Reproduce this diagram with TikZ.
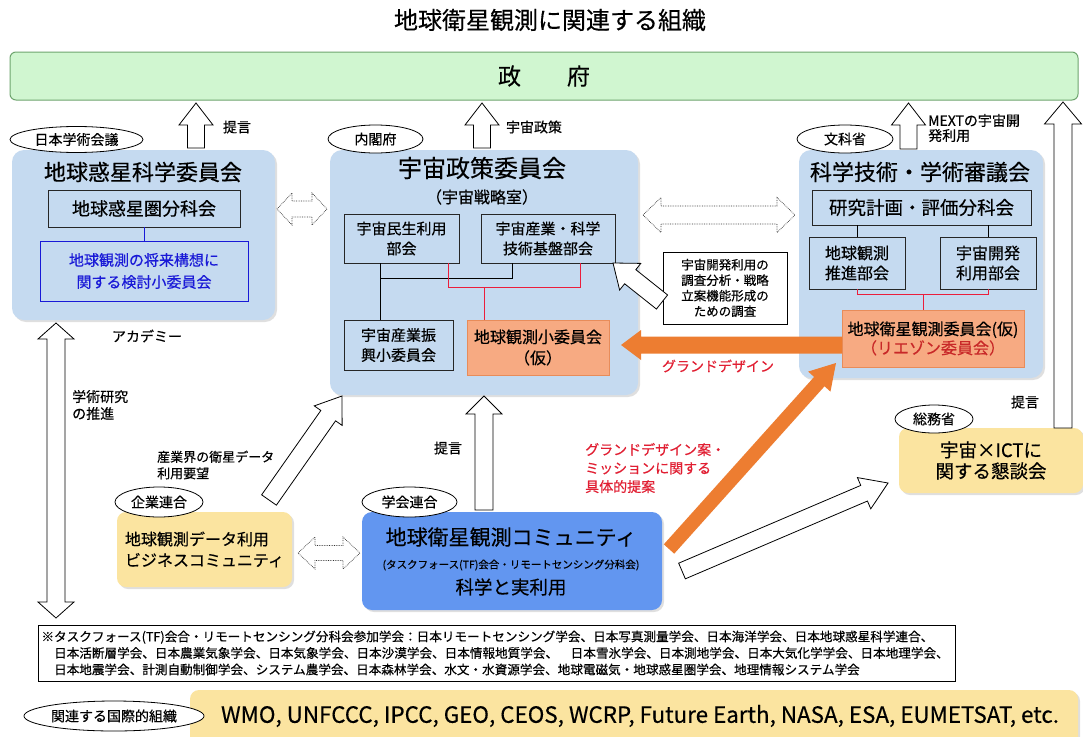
\documentclass[tikz,border=0pt]{standalone}
\usepackage{fontspec}
\setmainfont{Noto Sans CJK JP}[FakeBold=0.4]
\usetikzlibrary{calc,shapes.geometric,shadows}
\definecolor{lblue}{RGB}{197,218,240}
\definecolor{gfill}{RGB}{208,246,208}
\definecolor{gline}{RGB}{110,165,110}
\definecolor{ofill}{RGB}{247,170,130}
\definecolor{oline}{RGB}{232,140,90}
\definecolor{yfill}{RGB}{251,228,160}
\definecolor{cblue}{RGB}{98,150,240}
\definecolor{redl}{RGB}{235,30,60}
\definecolor{redt}{RGB}{225,30,50}
\definecolor{redt2}{RGB}{200,40,40}
\definecolor{oarrow}{RGB}{237,125,49}
\definecolor{bluet}{RGB}{25,25,215}
\newcommand{\fs}[2]{\fontsize{#1}{#2}\selectfont}
% block arrow: [style]{tail}{tip}{shaft half width}{head half width}{head length}
\newcommand{\barrow}[6][]{%
  \path ($(#3)!#6!(#2)$) coordinate (bah);
  \draw[#1] ($(#2)!#4!90:(#3)$) -- ($(bah)!#4!90:(#3)$) -- ($(bah)!#5!90:(#3)$) -- (#3)
    -- ($(bah)!#5!-90:(#3)$) -- ($(bah)!#4!-90:(#3)$) -- ($(#2)!#4!-90:(#3)$) -- cycle;}
% double headed block arrow
\newcommand{\darrow}[6][]{%
  \path ($(#2)!#6!(#3)$) coordinate (dah1) ($(#3)!#6!(#2)$) coordinate (dah2);
  \draw[#1] (#2) -- ($(dah1)!#5!90:(#3)$) -- ($(dah1)!#4!90:(#3)$) -- ($(dah2)!#4!90:(#3)$)
    -- ($(dah2)!#5!90:(#3)$) -- (#3) -- ($(dah2)!#5!-90:(#3)$) -- ($(dah2)!#4!-90:(#3)$)
    -- ($(dah1)!#4!-90:(#3)$) -- ($(dah1)!#5!-90:(#3)$) -- cycle;}
\begin{document}
\begin{tikzpicture}[x=1pt,y=-1pt,
  panel/.style={fill=lblue, rounded corners=12pt, inner sep=0pt,
    drop shadow={shadow xshift=2pt,shadow yshift=-2pt,opacity=0.25}},
  ibox/.style={draw=black!85, line width=0.9pt, fill=lblue, inner sep=0pt, align=center},
  obox/.style={draw=oline, line width=0.9pt, fill=ofill, inner sep=0pt, align=center},
  ybox/.style={fill=yfill, rounded corners=9pt, inner sep=0pt, align=center,
    drop shadow={shadow xshift=2pt,shadow yshift=-2pt,opacity=0.25}},
  ell/.style={ellipse, draw, line width=0.8pt, fill=white, inner sep=0pt, font=\fs{14}{16}},
  lab/.style={inner sep=0pt, font=\fs{14}{16}},
  blk/.style={draw=black, line width=1pt},
  redline/.style={draw=redl, line width=1pt},
  wa/.style={draw=black, line width=0.8pt, fill=white, line join=miter},
  dda/.style={draw=black!80, line width=0.7pt, densely dotted, fill=white},
  oa/.style={fill=oarrow, draw=none}]
\useasboundingbox (0,0) rectangle (1083,736);
\fill[white] (0,0) rectangle (1083,736);

% title and government
\node[lab, font=\fs{24}{28}] (title) at (550,20) {地球衛星観測に関連する組織};
\node[draw=gline, line width=1pt, fill=gfill, rounded corners=6pt, minimum width=1068pt, minimum height=48pt, font=\fs{23}{26}] (gov) at (544,76) {政　　府};

% left panel
\node[panel, minimum width=263pt, minimum height=170pt] (lbox) at (143.5,235) {};
\node[lab, font=\fs{22}{26}] (ltitle) at (143,172) {地球惑星科学委員会};
\node[ibox, minimum width=192pt, minimum height=37pt, font=\fs{18}{22}] (lsub) at (144,208.5) {地球惑星圏分科会};
\node[ibox, draw=bluet, text=bluet, minimum width=208pt, minimum height=60pt, font=\fs{15}{22}] (lblue) at (144,271) {地球観測の将来構想に\\関する検討小委員会};
\draw[bluet, line width=1pt] (lsub) -- (lblue);

% middle panel
\node[panel, minimum width=308pt, minimum height=245pt] (mbox) at (484,272.5) {};
\node[lab, font=\fs{24}{28}] (mtitle) at (482,168) {宇宙政策委員会};
\node[lab, font=\fs{16}{20}] (msub) at (482,197) {（宇宙戦略室）};
\node[ibox, minimum width=115pt, minimum height=49pt, font=\fs{15}{20}] (m1) at (401.5,238.5) {宇宙民生利用\\部会};
\node[ibox, minimum width=134pt, minimum height=49pt, font=\fs{15}{20}] (m2) at (548,238.5) {宇宙産業・科学\\技術基盤部会};
\node[ibox, minimum width=109pt, minimum height=50pt, font=\fs{15}{20}] (m3) at (398.5,345) {宇宙産業振\\興小委員会};
\node[obox, minimum width=142pt, minimum height=55pt, font=\fs{16}{21}] (m4) at (538,347.5) {地球観測小委員会\\（仮）};
\coordinate (mj1) at (380,278);
\coordinate (mj2) at (512,278);
\draw[blk] (m1.south -| mj1) -- (m3.north -| mj1);
\draw[blk] (mj1) -- (mj2) -- (m2.south -| mj2);
\coordinate (mr1) at (448,287);
\coordinate (mr2) at (580,287);
\coordinate (mr3) at (484,287);
\draw[redline] (m1.south -| mr1) -- (mr1) -- (mr2) -- (m2.south -| mr2);
\draw[redline] (mr3) -- (m4.north -| mr3);

% right panel
\node[panel, minimum width=244pt, minimum height=228pt] (rbox) at (921,264) {};
\node[lab, font=\fs{22}{26}] (rtitle) at (920,172) {科学技術・学術審議会};
\node[ibox, minimum width=219pt, minimum height=35pt, font=\fs{18.5}{22}] (r1) at (921.5,207.5) {研究計画・評価分科会};
\node[ibox, minimum width=96pt, minimum height=52pt, font=\fs{16}{20}] (r2) at (857,263) {地球観測\\推進部会};
\node[ibox, minimum width=96pt, minimum height=52pt, font=\fs{16}{20}] (r3) at (988,263) {宇宙開発\\利用部会};
\node[obox, minimum width=182pt, minimum height=57pt, font=\fs{16}{19}] (r4) at (933,338.5) {地球衛星観測委員会(仮)\\\textcolor{redt2}{（リエゾン委員会）}};
\draw[blk] (r1.south -| r2.north) -- (r2.north);
\draw[blk] (r1.south -| r3.north) -- (r3.north);
\coordinate (rr) at (923,294);
\draw[redline] (r2.south) -- (r2.south |- rr) -- (r3.south |- rr) -- (r3.south);
\draw[redline] (rr) -- (r4.north -| rr);

% research box
\node[draw, line width=0.9pt, fill=white, minimum width=124pt, minimum height=72pt, inner sep=0pt, align=center, font=\fs{12.5}{15.5}] (rs) at (725,288) {宇宙開発利用の\\調査分析・戦略\\立案機能形成の\\ための調査};

% soumusho box
\node[ybox, minimum width=184pt, minimum height=65pt, font=\fs{18.5}{21}] (sb) at (991,460.5) {宇宙×ICTに\\関する懇談会};
% business community
\node[ybox, minimum width=175pt, minimum height=75pt, align=left, font=\fs{16}{21}] (yb) at (204.5,549.5) {地球観測データ利用\\ビジネスコミュニティ};
% observation community
\node[fill=cblue, rounded corners=10pt, minimum width=300pt, minimum height=98pt, inner sep=0pt,
  drop shadow={shadow xshift=2pt,shadow yshift=-2pt,opacity=0.25}] (cb) at (512,561) {};
\node[lab, font=\fs{21}{24}] (ct1) at (511,537) {地球衛星観測コミュニティ};
\node[lab, font=\fs{10.5}{12}] (ct2) at (511,565) {(タスクフォース(TF)会合・リモートセンシング分科会)};
\node[lab, font=\fs{18.5}{22}] (ct3) at (511,587) {科学と実利用};

% footnote
\node[draw, line width=1pt, minimum width=917pt, minimum height=56pt, inner sep=0pt, text width=910pt, align=left, font=\fs{12.6}{16.5}] (fn) at (496.5,653) {※タスクフォース(TF)会合・リモートセンシング分科会参加学会：日本リモートセンシング学会、日本写真測量学会、日本海洋学会、日本地球惑星科学連合、\\
　日本活断層学会、日本農業気象学会、日本気象学会、日本沙漠学会、日本情報地質学会、　日本雪氷学会、日本測地学会、日本大気化学学会、日本地理学会、\\
　日本地震学会、計測自動制御学会、システム農学会、日本森林学会、水文・水資源学会、地球電磁気・地球惑星圏学会、地理情報システム学会};

% international
\node[ybox, minimum width=888pt, minimum height=56pt] (ib) at (634,718) {};
\node[lab, font=\fs{22.4}{26}] (ibt) at (640,716) {WMO, UNFCCC, IPCC, GEO, CEOS, WCRP, Future Earth, NASA, ESA, EUMETSAT, etc.};
\node[ell, minimum width=180pt, minimum height=30pt] (ie) at (114,716) {関連する国際的組織};

% ellipses
\node[ell, minimum width=133pt, minimum height=26pt] (e1) at (76.5,139.5) {日本学術会議};
\node[ell, minimum width=95pt, minimum height=28pt] (e2) at (375.5,139) {内閣府};
\node[ell, minimum width=96pt, minimum height=28pt] (e3) at (845,139) {文科省};
\node[ell, minimum width=78pt, minimum height=28pt] (e4) at (934,419) {総務省};
\node[ell, minimum width=88pt, minimum height=30pt] (e5) at (159,502) {企業連合};
\node[ell, minimum width=95pt, minimum height=30pt] (e6) at (409.5,502) {学会連合};

% labels
\node[lab] (l1) at (237,127) {提言};
\node[lab] (l2) at (534,127) {宇宙政策};
\node[lab, anchor=west, align=left, font=\fs{14}{15}] (l3) at (928,128) {MEXTの宇宙開\\発利用};
\node[lab] (l4) at (1025,402) {提言};
\node[lab] (l5) at (147,336) {アカデミー};
\node[lab, anchor=west, align=left, font=\fs{14}{17}] (l6) at (72,405) {学術研究\\の推進};
\node[lab, anchor=west, align=left, font=\fs{13}{16.5}] (l7) at (157,465) {産業界の衛星データ\\利用要望};
\node[lab] (l8) at (448,448) {提言};
\node[lab, anchor=west, align=left, text=redt, font=\fs{14}{18.5}] (l9) at (585,468) {グランドデザイン案・\\ミッションに関する\\具体的提案};
\node[lab, text=redt] (l10) at (718,366) {グランドデザイン};

% up arrows to government
\coordinate (u1a) at (196,148); \coordinate (u1b) at (196,103);
\barrow[wa]{u1a}{u1b}{8.5pt}{17pt}{22pt}
\coordinate (u2a) at (482,148); \coordinate (u2b) at (482,103);
\barrow[wa]{u2a}{u2b}{8.5pt}{17pt}{22pt}
\coordinate (u3a) at (908.5,149); \coordinate (u3b) at (908.5,103);
\barrow[wa]{u3a}{u3b}{8.5pt}{17pt}{22pt}
\coordinate (u4a) at (1063,428); \coordinate (u4b) at (1063,102);
\barrow[wa]{u4a}{u4b}{9pt}{18.5pt}{22pt}
% community to cabinet office
\coordinate (u5a) at (484,510); \coordinate (u5b) at (484,396);
\barrow[wa]{u5a}{u5b}{9pt}{18pt}{18pt}
% diagonal arrows
\coordinate (d1a) at (269,500); \coordinate (d1b) at (342,396);
\barrow[wa]{d1a}{d1b}{9pt}{17pt}{24pt}
\coordinate (d2a) at (682,571); \coordinate (d2b) at (888,483);
\barrow[wa]{d2a}{d2b}{8.5pt}{17pt}{26pt}
\coordinate (d3a) at (662,302); \coordinate (d3b) at (613,263);
\barrow[wa]{d3a}{d3b}{9pt}{17pt}{22pt}
% double arrows
\coordinate (h1a) at (277,209); \coordinate (h1b) at (327,209);
\darrow[dda]{h1a}{h1b}{8pt}{16pt}{15pt}
\coordinate (h2a) at (643,215); \coordinate (h2b) at (795,215);
\darrow[dda]{h2a}{h2b}{9pt}{17.5pt}{18pt}
\coordinate (h3a) at (298,553); \coordinate (h3b) at (360,553);
\darrow[dda]{h3a}{h3b}{7.5pt}{16pt}{17pt}
\coordinate (v1a) at (56,323); \coordinate (v1b) at (56,618);
\darrow[wa]{v1a}{v1b}{9pt}{18pt}{16pt}
% orange arrows
\coordinate (o1a) at (842,345); \coordinate (o1b) at (621,345);
\barrow[oa]{o1a}{o1b}{8.5pt}{15pt}{20pt}
\coordinate (o2a) at (669,549); \coordinate (o2b) at (836,363);
\barrow[oa]{o2a}{o2b}{7pt}{15pt}{25pt}
\end{tikzpicture}
\end{document}
